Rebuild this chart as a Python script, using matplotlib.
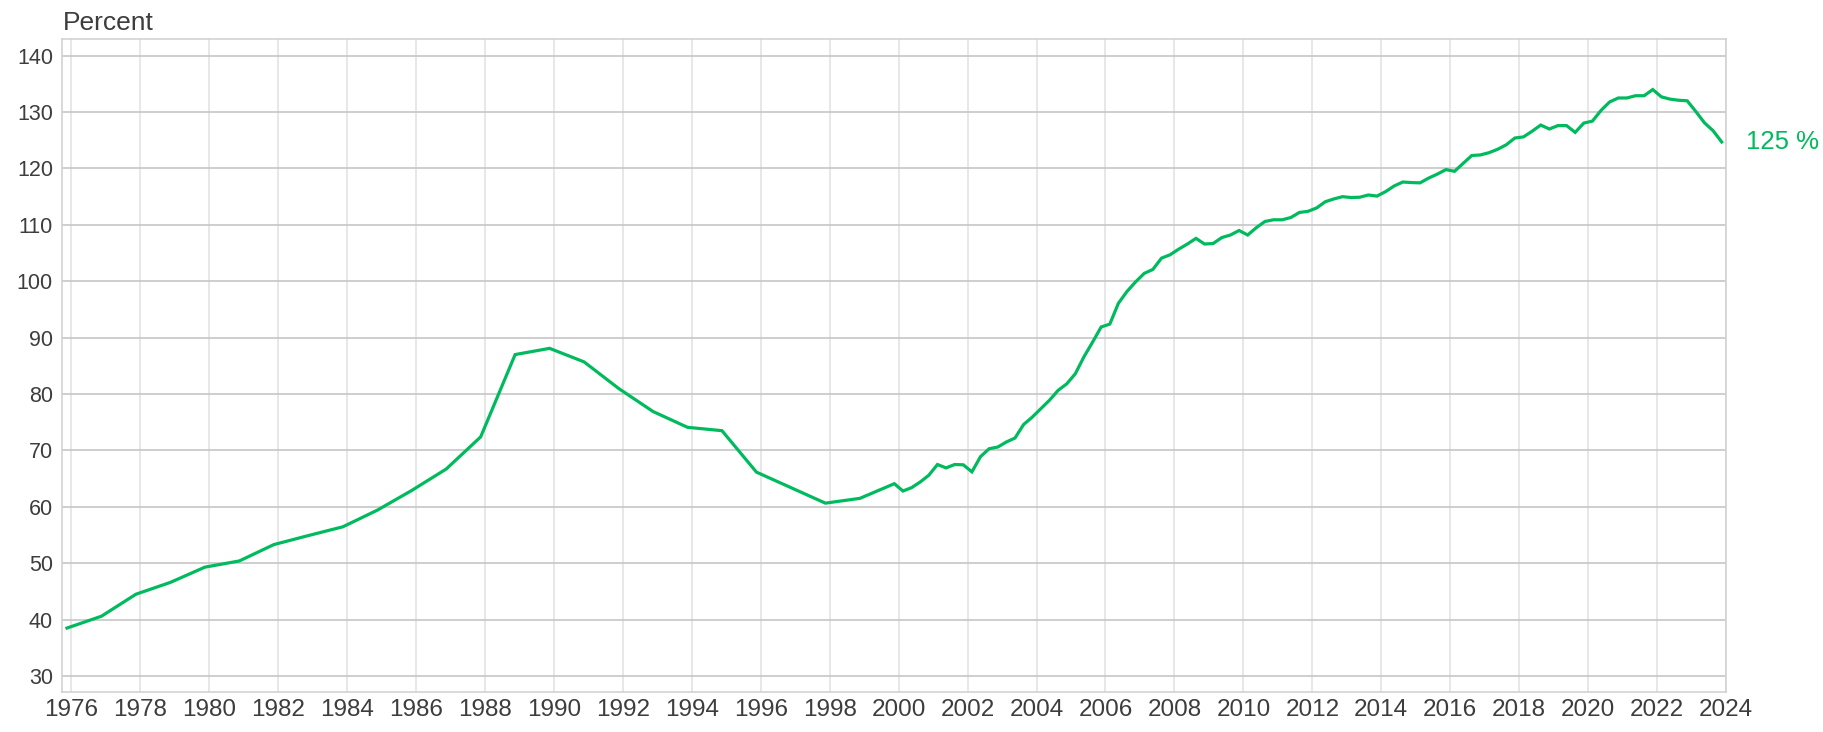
import matplotlib
matplotlib.use("Agg")
import matplotlib.pyplot as plt
import numpy as np
from matplotlib import font_manager

plt.rcParams["font.family"] = ["Liberation Sans", "DejaVu Sans"]

GREEN = "#00BA5E"
TEXT = "#3d3d3d"

# yearly values 1975-1999 (percent)
annual_years = list(range(1975, 2000))
annual_values = [38.5, 40.6, 44.5, 46.6, 49.3, 50.4, 53.3, 54.9, 56.45, 59.4,
                 62.9, 66.7, 72.4, 87.0, 88.1, 85.7, 81.0, 76.9, 74.1, 73.5,
                 66.15, 63.4, 60.65, 61.5, 64.1]

# quarterly values 2000Q1-2023Q4 (percent)
quarter_start = 2000
quarterly_values = [
    62.8, 63.4, 64.4, 65.6,
    67.5, 66.9, 67.5, 67.45,
    66.2, 68.9, 70.3, 70.6,
    71.5, 72.2, 74.6, 75.9,
    77.4, 78.9, 80.65, 81.8,
    83.6, 86.6, 89.2, 91.9,
    92.4, 96.1, 98.2, 99.9,
    101.4, 102.1, 104.1, 104.7,
    105.7, 106.6, 107.6, 106.6,
    106.7, 107.75, 108.2, 109.0,
    108.2, 109.5, 110.6, 110.9,
    110.9, 111.3, 112.2, 112.4,
    113.0, 114.1, 114.6, 115.0,
    114.85, 114.9, 115.3, 115.1,
    115.9, 116.9, 117.6, 117.5,
    117.45, 118.3, 119.0, 119.8,
    119.5, 120.9, 122.3, 122.4,
    122.8, 123.4, 124.2, 125.4,
    125.6, 126.6, 127.7, 127.0,
    127.6, 127.6, 126.4, 128.05,
    128.4, 130.3, 131.8, 132.5,
    132.5, 132.9, 132.9, 134.0,
    132.7, 132.3, 132.1, 132.0,
    130.1, 128.1, 126.7, 124.7,
]

x_ticks = list(range(1976, 2025, 2))
y_ticks = list(range(30, 141, 10))
end_label = "125 %"

# annual points sit at the Q4 midpoint, quarterly ones at quarter midpoints
x_annual = np.array(annual_years) + 0.875
x_quarter = quarter_start + 0.125 + 0.25 * np.arange(len(quarterly_values))
x = np.concatenate([x_annual, x_quarter])
y = np.concatenate([annual_values, quarterly_values])

# year labels in the reference are tall and narrow
installed = {f.name for f in font_manager.fontManager.ttflist}
if "Liberation Sans Narrow" in installed:
    year_font = dict(family="Liberation Sans Narrow", size=21)
else:
    year_font = dict(family="Liberation Sans", size=17.5)

fig = plt.figure(figsize=(18.24, 7.32), dpi=100)
ax = fig.add_axes([62 / 1824, 1 - 692 / 732, (1726 - 62) / 1824, (692 - 39) / 732])

ax.plot(x, y, color=GREEN, lw=2.3, solid_joinstyle="miter", zorder=3)

ax.set_xlim(1975.73, 2024.0)
ax.set_ylim(27.16, 142.96)
ax.set_xticks(x_ticks)
ax.set_xticklabels([str(t) for t in x_ticks], **year_font)
ax.set_yticks(y_ticks)
ax.tick_params(axis="both", length=0, labelcolor=TEXT)
ax.tick_params(axis="x", pad=5)
ax.tick_params(axis="y", pad=6.5, labelsize=15.5)

ax.grid(axis="y", color="#c6c6c6", lw=1.2, zorder=1)
ax.grid(axis="x", color="#e0e0e0", lw=1.1, zorder=1)
ax.set_axisbelow(True)
for s in ax.spines.values():
    s.set_color("#cfcfcf")
    s.set_linewidth(1.1)

ax.text(1.012, y[-1], end_label, transform=ax.get_yaxis_transform(),
        color=GREEN, fontsize=18.5, ha="left", va="center")
fig.text(63 / 1824, 1 - 29.5 / 732, "Percent", fontsize=19, color=TEXT,
         ha="left", va="baseline")

fig.savefig("out.png", dpi=100)
